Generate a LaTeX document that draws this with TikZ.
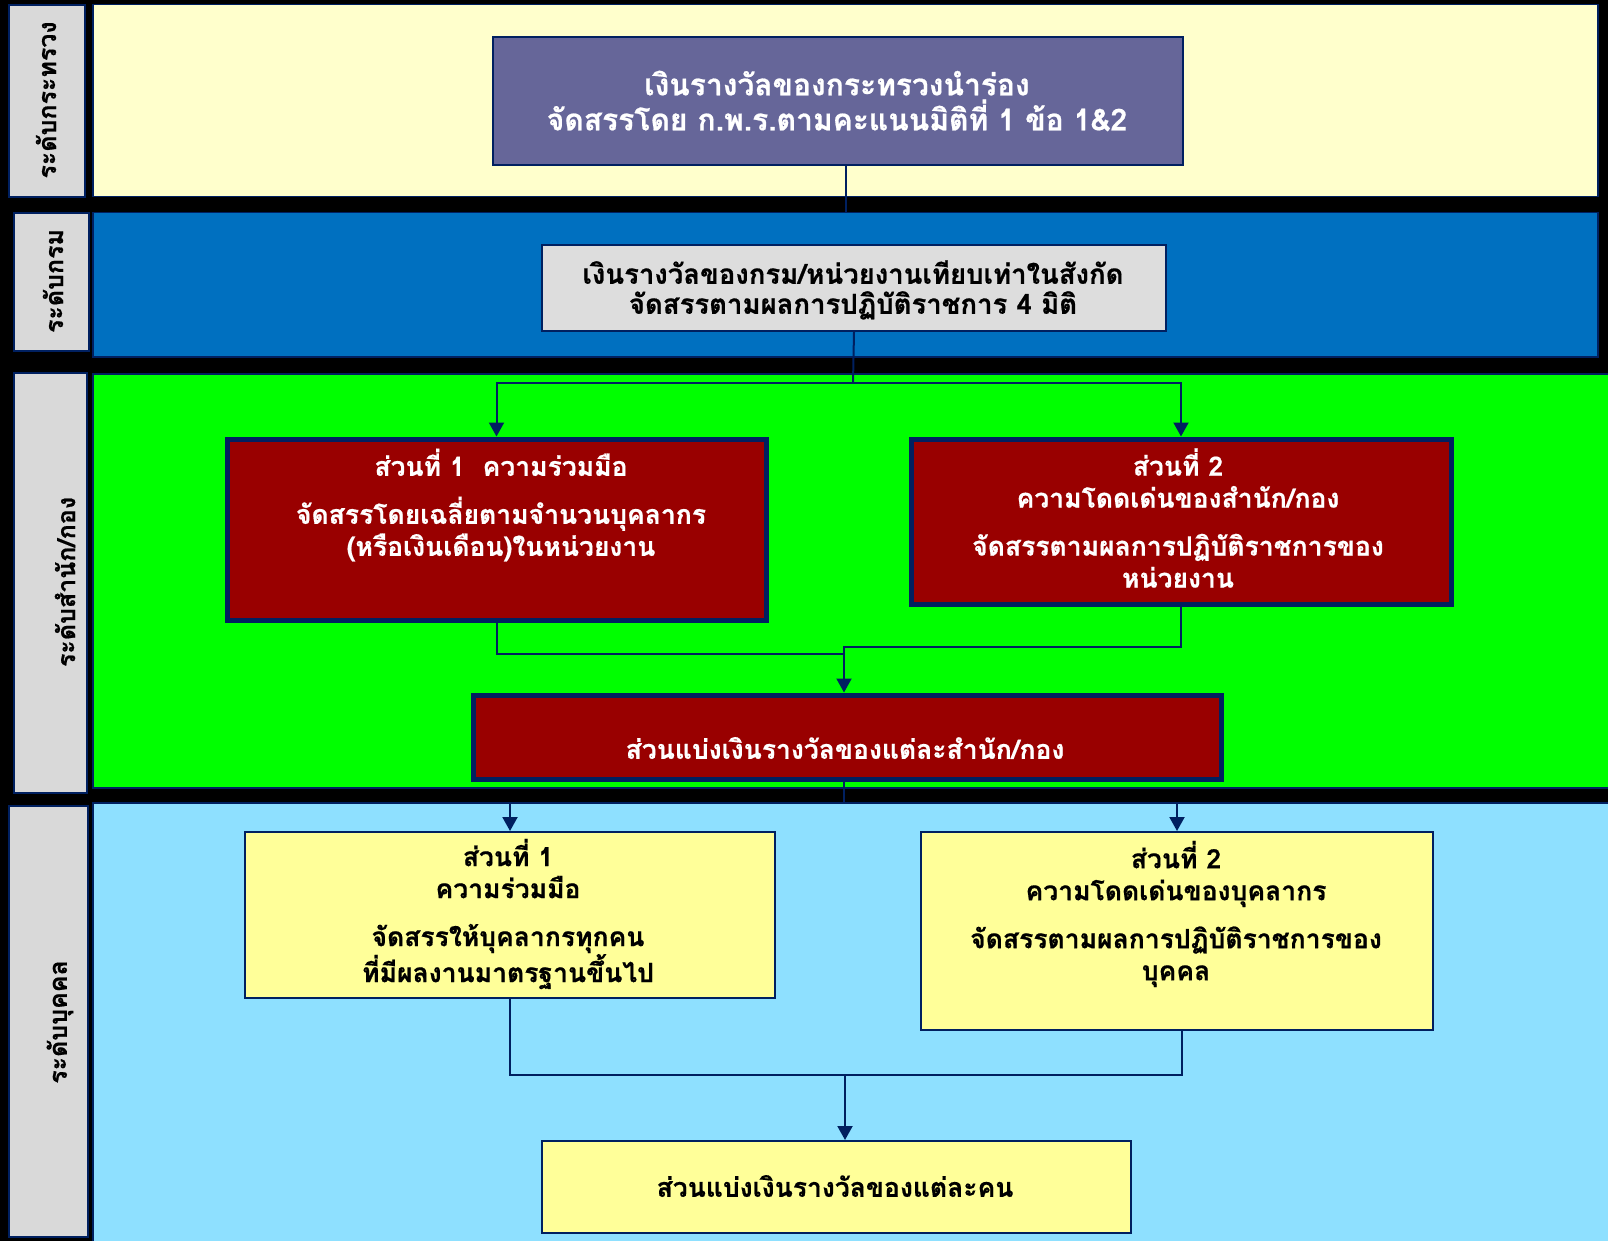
\documentclass[tikz,border=0pt]{standalone}
\usepackage{fontspec}
\newfontfamily\thai[Script=Thai, BoldFeatures={FakeBold=0.6}]{Loma}
\usetikzlibrary{arrows.meta}
\definecolor{navy}{HTML}{002060}
\definecolor{bandYellow}{HTML}{FFFFCC}
\definecolor{bandBlue}{HTML}{0070C0}
\definecolor{bandGreen}{HTML}{00FF00}
\definecolor{bandSky}{HTML}{8EE0FF}
\definecolor{tagGray}{HTML}{D9D9D9}
\definecolor{boxPurple}{HTML}{666699}
\definecolor{boxGray}{HTML}{DDDDDD}
\definecolor{boxRed}{HTML}{990000}
\definecolor{boxYellow}{HTML}{FFFF99}
\tikzset{
  band/.style={draw=navy, line width=1.5pt, anchor=north west, inner sep=0pt},
  tag/.style={draw=navy, line width=2pt, fill=tagGray, anchor=north west, inner sep=0pt},
  tagtext/.style={rotate=90, font=\thai\bfseries\fontsize{25}{30}\selectfont, text=black, inner sep=0pt},
  box/.style={draw=navy, line width=2pt, anchor=north west, inner sep=0pt},
  redbox/.style={box, line width=5pt, fill=boxRed},
  txt/.style={align=center, inner sep=0pt, font=\thai\bfseries\fontsize{26.5}{32}\selectfont},
  conn/.style={draw=navy, line width=2pt},
  arr/.style={conn, -{Triangle[width=15pt,length=14pt]}},
}
\begin{document}
\begin{tikzpicture}[x=1pt,y=-1pt]
\useasboundingbox (0,0) rectangle (1608,1241);
\clip (0,0) rectangle (1608,1241);
\fill[black] (0,0) rectangle (1608,1241);

% level bands
\node[band, fill=bandYellow, minimum width=1505pt, minimum height=192pt] (band1) at (92,4) {};
\node[band, fill=bandBlue,   minimum width=1505pt, minimum height=144pt] (band2) at (92,212) {};
\node[band, fill=bandGreen,  minimum width=1540pt, minimum height=414pt] (band3) at (92,373) {};
\node[band, fill=bandSky,    minimum width=1540pt, minimum height=470pt] (band4) at (92,802) {};

% level tags on the left
\node[tag, minimum width=76pt, minimum height=192pt] (tag1) at (8,4) {};
\node[tag, minimum width=75pt, minimum height=138pt] (tag2) at (13,212) {};
\node[tag, minimum width=73pt, minimum height=420pt] (tag3) at (13,372) {};
\node[tag, minimum width=79pt, minimum height=431pt] (tag4) at (8,805) {};
\node[tagtext] (tag1t) at (46,100) {ระดับกระทรวง};
\node[tagtext] (tag2t) at (53,281) {ระดับกรม};
\node[tagtext] (tag3t) at (65,582) {ระดับสำนัก/กอง};
\node[tagtext] (tag4t) at (60,1022) {ระดับบุคคล};

% boxes
\node[box, fill=boxPurple, minimum width=690pt, minimum height=128pt] (pur) at (492,36) {};
\node[box, fill=boxGray, minimum width=624pt, minimum height=86pt] (gry) at (541,244) {};
\node[redbox, minimum width=539pt, minimum height=181pt] (red1) at (224.5,436.5) {};
\node[redbox, minimum width=540pt, minimum height=165pt] (red2) at (908.5,436.5) {};
\node[redbox, minimum width=748pt, minimum height=84pt] (red3) at (470.5,692.5) {};
\node[box, fill=boxYellow, minimum width=530pt, minimum height=166pt] (yel1) at (244,831) {};
\node[box, fill=boxYellow, minimum width=512pt, minimum height=198pt] (yel2) at (920,831) {};
\node[box, fill=boxYellow, minimum width=589pt, minimum height=92pt] (bot) at (541,1140) {};

% box texts
\node[txt, text=white, font=\thai\bfseries\fontsize{30}{35}\selectfont] (purt) at (837,101)
  {เงินรางวัลของกระทรวงนำร่อง\\จัดสรรโดย ก.พ.ร.ตามคะแนนมิติที่ 1 ข้อ 1\&2};
\node[txt, text=black, font=\thai\bfseries\fontsize{27.5}{30}\selectfont] (gryt) at (853,290)
  {เงินรางวัลของกรม/หน่วยงานเทียบเท่าในสังกัด\\จัดสรรตามผลการปฏิบัติราชการ 4 มิติ};
\node[txt, text=white] (red1t) at (501,505)
  {ส่วนที่ 1~~ความร่วมมือ\\[16pt]จัดสรรโดยเฉลี่ยตามจำนวนบุคลากร\\(หรือเงินเดือน)ในหน่วยงาน};
\node[txt, text=white] (red2t) at (1178,518)
  {ส่วนที่ 2\\ความโดดเด่นของสำนัก/กอง\\[16pt]จัดสรรตามผลการปฏิบัติราชการของ\\หน่วยงาน};
\node[txt, text=white] (red3t) at (845,748) {ส่วนแบ่งเงินรางวัลของแต่ละสำนัก/กอง};
\node[txt, text=black] (yel1t) at (508,914)
  {ส่วนที่ 1\\ความร่วมมือ\\[16pt]จัดสรรให้บุคลากรทุกคน\\ที่มีผลงานมาตรฐานขึ้นไป};
\node[txt, text=black] (yel2t) at (1176,914)
  {ส่วนที่ 2\\ความโดดเด่นของบุคลากร\\[16pt]จัดสรรตามผลการปฏิบัติราชการของ\\บุคคล};
\node[txt, text=black] (bott) at (835,1186) {ส่วนแบ่งเงินรางวัลของแต่ละคน};

% connectors
\draw[conn] ([xshift=8pt]pur.south) -- ([xshift=8pt]pur.south |- band2.north);

\coordinate (split1) at (853,383);
\draw[conn] (gry.south) -- (split1);
\draw[arr] (split1) -| (red1.north);
\draw[arr] (split1) -| (red2.north);

\coordinate (join1) at (844,654);
\coordinate (join2) at (844,647);
\draw[conn] (red1.south) |- (join1);
\draw[arr] (red2.south) |- (join2) -- (join2 |- red3.north);

\coordinate (split2) at (844,803);
\draw[conn] (split2 |- red3.south) -- (split2);
\draw[arr] (split2) -| (yel1.north);
\draw[arr] (split2) -| (yel2.north);

\coordinate (join3) at (845,1075);
\draw[conn] (yel1.south) |- (join3);
\draw[conn] ([xshift=5pt]yel2.south) |- (join3);
\draw[arr] (join3) -- (join3 |- bot.north);
\end{tikzpicture}
\end{document}
